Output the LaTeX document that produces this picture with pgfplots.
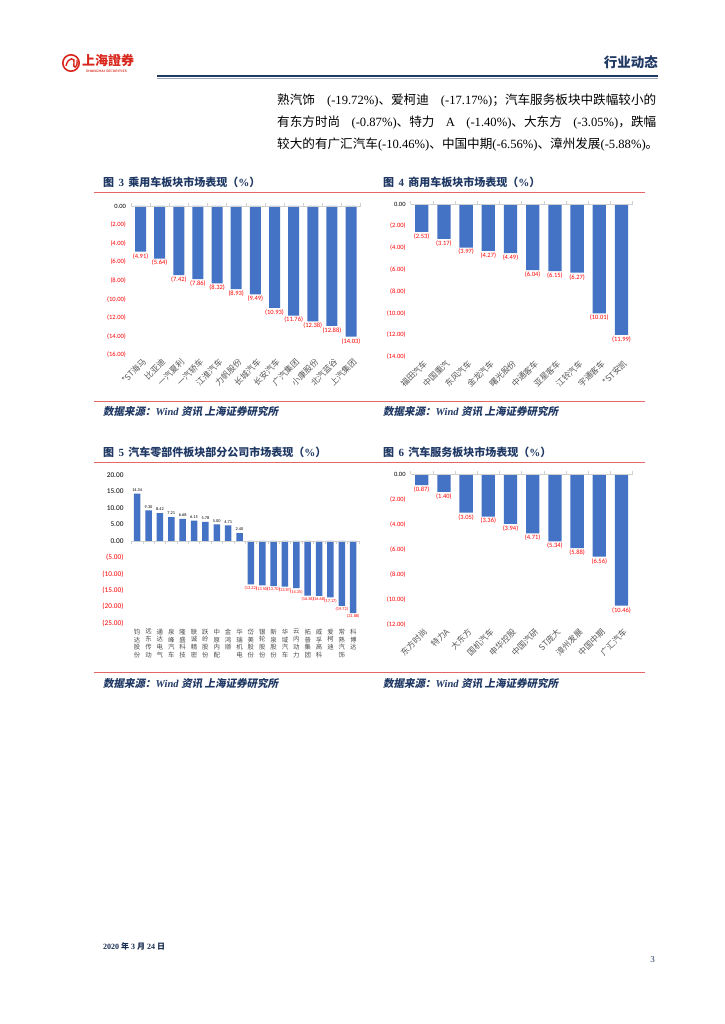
\documentclass[border=0pt]{standalone}
\usepackage{pgfplots}
\pgfplotsset{compat=1.18}
\usepackage{pgfplotstable}
\usepackage{fontspec}
\setmainfont{Liberation Serif}
\newfontfamily\cjk{Noto Sans CJK SC}
\newfontfamily\cjksl{Noto Sans CJK SC}[FakeSlant=0.2]
\newfontfamily\calfont{Carlito}

\definecolor{barblue}{HTML}{4472C4}
\definecolor{navy}{HTML}{1F3864}
\definecolor{titlered}{HTML}{E46666}
\definecolor{labgrey}{HTML}{595959}
\definecolor{axgrey}{HTML}{D0D0D0}
\definecolor{logored}{HTML}{D9261C}

% passenger cars
\pgfplotstableread{
x y
0 -4.91
1 -5.64
2 -7.42
3 -7.86
4 -8.32
5 -8.93
6 -9.49
7 -10.93
8 -11.76
9 -12.38
10 -12.88
11 -14.03
}\carA
% commercial vehicles
\pgfplotstableread{
x y
0 -2.53
1 -3.17
2 -3.97
3 -4.27
4 -4.49
5 -6.04
6 -6.15
7 -6.27
8 -10.01
9 -11.99
}\carB
% parts, gainers
\pgfplotstableread{
x y
0 14.34
1 9.30
2 8.42
3 7.21
4 6.68
5 6.15
6 5.78
7 5.00
8 4.71
9 2.40
}\partsUp
% parts, losers
\pgfplotstableread{
x y
10 -13.22
11 -13.50
12 -13.70
13 -13.87
14 -14.35
15 -16.58
16 -16.68
17 -17.17
18 -19.72
19 -21.88
}\partsDown
% auto services
\pgfplotstableread{
x y
0 -0.87
1 -1.40
2 -3.05
3 -3.36
4 -3.94
5 -4.71
6 -5.34
7 -5.88
8 -6.56
9 -10.46
}\carD

\pgfplotsset{
  base/.style={
    anchor=north west, scale only axis, clip=false,
    axis line style={draw=none}, major tick length=0pt,
    /pgf/number format/assume math mode=true,
    yticklabel style={font=\calfont\fontsize{6.5}{7}\selectfont, xshift=-1.5pt},
  },
  negchart/.style={
    base, xmin=-0.5, ymax=0,
    xticklabel style={font=\cjk\fontsize{8.3}{9}\selectfont, text=labgrey,
      rotate=45, anchor=east, yshift=-6.5pt, xshift=2.5pt},
  },
  negbars/.style={
    ybar, bar shift=0pt, bar width=#1, fill=barblue, draw=none,
    nodes near coords={(\pgfmathprintnumber[fixed,fixed zerofill,precision=2]{\pgfplotspointmeta})},
    point meta={-\thisrow{y}},
    nodes near coords style={anchor=north, text=red, font=\calfont\fontsize{6.5}{7}\selectfont, inner sep=1.5pt},
  },
}

\begin{document}
\begin{tikzpicture}
\fill[white] (0,0) rectangle (724pt,-1024pt);
\path[use as bounding box] (0,0) rectangle (724pt,-1024pt);

\begin{scope}[x=1pt,y=-1pt]
  % header
  \draw[logored, line width=1.6pt] (71,63) circle (8.2);
  \draw[logored, line width=1.4pt] (66,66) .. controls (68,56) and (76,58) .. (74,63) .. controls (72,68) and (78,70) .. (77,60);
  \node[anchor=west, text=logored, font=\cjk\bfseries\fontsize{13}{13}\selectfont, inner sep=0pt] at (82,60) {上海證券};
  \node[anchor=west, text=logored, font=\sffamily\bfseries\fontsize{3.4}{4}\selectfont, inner sep=0pt] at (86,71.5) {SHANGHAI SECURITIES};
  \node[anchor=east, text=navy, font=\cjk\bfseries\fontsize{13.5}{14}\selectfont, inner sep=0pt] at (658,62) {行业动态};
  \draw[navy, line width=1.6pt] (157,76) -- (658,76);
  \draw[navy!45, line width=0.5pt] (157,78.4) -- (658,78.4);

  % body text
  \begin{scope}[every node/.style={anchor=base west, inner sep=0pt, font=\fontsize{12.6}{14}\selectfont}]
    \node at (277,105) {\makebox[379pt][s]{{\cjk 熟汽饰} (-19.72\%){\cjk 、爱柯迪} (-17.17\%){\cjk ；汽车服务板块中跌幅较小的}}};
    \node at (277,127) {\makebox[379pt][s]{{\cjk 有东方时尚} (-0.87\%){\cjk 、特力} A (-1.40\%){\cjk 、大东方} (-3.05\%){\cjk ，跌幅}}};
    \node at (277,149) {{\cjk 较大的有广汇汽车}(-10.46\%){\cjk 、中国中期}(-6.56\%){\cjk 、漳州发展}(-5.88\%){\cjk 。}};
  \end{scope}

  % figure titles and rules
  \begin{scope}[every node/.style={anchor=base west, inner sep=0pt, text=navy, font=\cjk\bfseries\fontsize{11}{12}\selectfont}]
    \node at (103,187) {图\, {\rmfamily 3}\, 乘用车板块市场表现（{\rmfamily\%}）};
    \node at (383,187) {图\, {\rmfamily 4}\, 商用车板块市场表现（{\rmfamily\%}）};
    \node at (103,456) {图\, {\rmfamily 5}\, 汽车零部件板块部分公司市场表现（{\rmfamily\%}）};
    \node at (383,456) {图\, {\rmfamily 6}\, 汽车服务板块市场表现（{\rmfamily\%}）};
  \end{scope}
  \draw[titlered, line width=0.8pt] (94,192.5) -- (645,192.5);
  \draw[titlered, line width=0.8pt] (94,462.5) -- (645,462.5);
  \draw[titlered, line width=0.8pt] (94,401.5) -- (645,401.5);
  \draw[titlered, line width=0.8pt] (94,672) -- (645,672);
  \begin{scope}[every node/.style={anchor=base west, inner sep=0pt, text=navy, font=\fontsize{10.5}{12}\selectfont}]
    \node at (103,415) {{\cjksl\bfseries 数据来源：}{\bfseries\itshape Wind} {\cjksl\bfseries 资讯 上海证券研究所}};
    \node at (383,415) {{\cjksl\bfseries 数据来源：}{\bfseries\itshape Wind} {\cjksl\bfseries 资讯 上海证券研究所}};
    \node at (103,687) {{\cjksl\bfseries 数据来源：}{\bfseries\itshape Wind} {\cjksl\bfseries 资讯 上海证券研究所}};
    \node at (383,687) {{\cjksl\bfseries 数据来源：}{\bfseries\itshape Wind} {\cjksl\bfseries 资讯 上海证券研究所}};
  \end{scope}

  % footer
  \node[anchor=base west, inner sep=0pt, text=navy!80!black, font=\bfseries\fontsize{8}{9}\selectfont] at (103,949) {2020 {\cjk 年} 3 {\cjk 月} 24 {\cjk 日}};
  \node[anchor=base east, inner sep=0pt, text=navy, font=\fontsize{9}{10}\selectfont] at (655,962) {3};
\end{scope}

% figure 3
\begin{axis}[negchart, at={(131pt,-206pt)}, width=229.6pt, height=149pt,
  xmax=11.5, ymin=-16,
  xtick={0,...,11},
  xticklabels={*ST海马,比亚迪,一汽夏利,一汽轿车,江淮汽车,力帆股份,长城汽车,长安汽车,广汽集团,小康股份,北汽蓝谷,上汽集团},
  ytick={-16,-14,...,0},
  yticklabels={{\color{red}(16.00)},{\color{red}(14.00)},{\color{red}(12.00)},{\color{red}(10.00)},{\color{red}(8.00)},{\color{red}(6.00)},{\color{red}(4.00)},{\color{red}(2.00)},0.00},
]
\addplot[negbars=11pt] table {\carA};
\draw[axgrey, line width=0.6pt] (axis cs:-0.5,0) -- (axis cs:11.5,0);
\pgfplotsinvokeforeach{-0.5,0.5,...,11.5}{\draw[axgrey, line width=0.5pt] (axis cs:#1,0) -- ([yshift=3pt]axis cs:#1,0);}
\end{axis}

% figure 4
\begin{axis}[negchart, at={(410.6pt,-204.3pt)}, width=222pt, height=152.4pt,
  xmax=9.5, ymin=-14,
  xtick={0,...,9},
  xticklabels={福田汽车,中国重汽,东风汽车,金龙汽车,曙光股份,中通客车,亚星客车,江铃汽车,宇通客车,*ST安凯},
  ytick={-14,-12,...,0},
  yticklabels={{\color{red}(14.00)},{\color{red}(12.00)},{\color{red}(10.00)},{\color{red}(8.00)},{\color{red}(6.00)},{\color{red}(4.00)},{\color{red}(2.00)},0.00},
]
\addplot[negbars=13.3pt] table {\carB};
\draw[axgrey, line width=0.6pt] (axis cs:-0.5,0) -- (axis cs:9.5,0);
\pgfplotsinvokeforeach{-0.5,0.5,...,9.5}{\draw[axgrey, line width=0.5pt] (axis cs:#1,0) -- ([yshift=3pt]axis cs:#1,0);}
\end{axis}

% figure 5
\begin{axis}[base, at={(131.5pt,-475pt)}, width=227.4pt, height=148.3pt,
  xmin=-0.5, xmax=19.5, ymin=-25, ymax=20,
  xtick={0,...,19},
  xticklabels={钧\\达\\股\\份,远\\东\\传\\动,通\\达\\电\\气,泉\\峰\\汽\\车,隆\\盛\\科\\技,联\\诚\\精\\密,跃\\岭\\股\\份,中\\原\\内\\配,金\\鸿\\顺,华\\瑞\\机\\电,岱\\美\\股\\份,银\\轮\\股\\份,新\\泉\\股\\份,华\\域\\汽\\车,云\\内\\动\\力,拓\\普\\集\\团,威\\孚\\高\\科,爱\\柯\\迪,常\\熟\\汽\\饰,科\\博\\达},
  xticklabel style={font=\cjk\fontsize{6.4}{7.8}\selectfont, text=labgrey!85!black, align=center, anchor=north, yshift=-2pt},
  yticklabel style={font=\calfont\fontsize{7.3}{8}\selectfont, xshift=-3pt},
  ytick={-25,-20,...,20},
  yticklabels={{\color{red}(25.00)},{\color{red}(20.00)},{\color{red}(15.00)},{\color{red}(10.00)},{\color{red}(5.00)},0.00,5.00,10.00,15.00,20.00},
]
\addplot[ybar, bar shift=0pt, bar width=6.5pt, fill=barblue, draw=none,
  nodes near coords={\pgfmathprintnumber[fixed,fixed zerofill,precision=2]{\pgfplotspointmeta}},
  point meta={\thisrow{y}},
  nodes near coords style={anchor=south, font=\calfont\fontsize{4.3}{5}\selectfont, inner sep=2pt}] table {\partsUp};
\addplot[ybar, bar shift=0pt, bar width=6.5pt, fill=barblue, draw=none,
  nodes near coords={(\pgfmathprintnumber[fixed,fixed zerofill,precision=2]{\pgfplotspointmeta})},
  point meta={-\thisrow{y}},
  nodes near coords style={anchor=north, text=red, font=\calfont\fontsize{4.3}{5}\selectfont, inner sep=1.5pt}] table {\partsDown};
\draw[axgrey, line width=0.6pt] (axis cs:-0.5,0) -- (axis cs:19.5,0);
\pgfplotsinvokeforeach{-0.5,0.5,...,19.5}{\draw[axgrey, line width=0.5pt] (axis cs:#1,0) -- ([yshift=-3pt]axis cs:#1,0);}
\end{axis}

% figure 6
\begin{axis}[negchart, at={(410.6pt,-474.3pt)}, width=222pt, height=150.7pt,
  xmax=9.5, ymin=-12,
  xtick={0,...,9},
  xticklabels={东方时尚,特力A,大东方,国机汽车,申华控股,中国汽研,ST庞大,漳州发展,中国中期,广汇汽车},
  ytick={-12,-10,...,0},
  yticklabels={{\color{red}(12.00)},{\color{red}(10.00)},{\color{red}(8.00)},{\color{red}(6.00)},{\color{red}(4.00)},{\color{red}(2.00)},0.00},
]
\addplot[negbars=13.3pt] table {\carD};
\draw[axgrey, line width=0.6pt] (axis cs:-0.5,0) -- (axis cs:9.5,0);
\pgfplotsinvokeforeach{-0.5,0.5,...,9.5}{\draw[axgrey, line width=0.5pt] (axis cs:#1,0) -- ([yshift=3pt]axis cs:#1,0);}
\end{axis}
\end{tikzpicture}
\end{document}
